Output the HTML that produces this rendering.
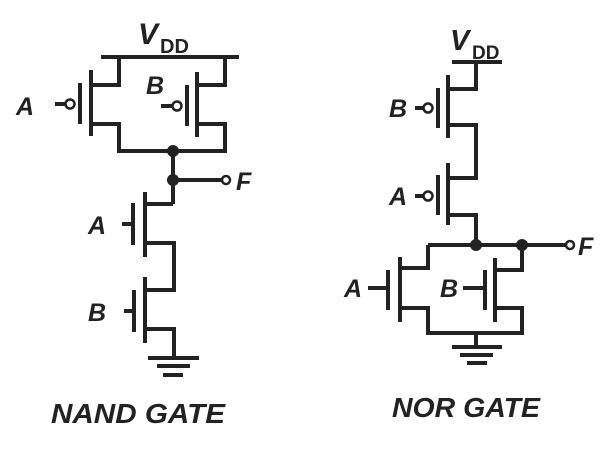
<!DOCTYPE html>
<html><head><meta charset="utf-8"><style>
html,body{margin:0;padding:0;background:#fff;}
svg{display:block;}
text{font-family:"Liberation Sans",Arial,sans-serif;font-weight:bold;font-style:italic;fill:#222;}
</style></head><body>
<svg width="614" height="457" viewBox="0 0 614 457" xmlns="http://www.w3.org/2000/svg">
<g stroke="#222" stroke-width="4" fill="none" stroke-linecap="butt">
<line x1="101" y1="57" x2="239" y2="57"/>
<polyline points="119,57 119,85 91,85"/>
<line x1="91" y1="70" x2="91" y2="136"/>
<line x1="80" y1="83" x2="80" y2="124"/>
<polyline points="91,124 119,124 119,151 225,151 225,124 197,124"/>
<line x1="197" y1="72" x2="197" y2="137"/>
<line x1="187" y1="85" x2="187" y2="126"/>
<polyline points="197,85 225,85 225,57"/>
<line x1="55" y1="104" x2="66" y2="104"/>
<line x1="161" y1="106" x2="173" y2="106"/>
<line x1="173" y1="151" x2="173" y2="204"/>
<line x1="173" y1="180" x2="222" y2="180"/>
<polyline points="173,204 145,204"/>
<line x1="145" y1="192" x2="145" y2="257"/>
<line x1="133" y1="203" x2="133" y2="245"/>
<line x1="122" y1="224" x2="133" y2="224"/>
<polyline points="145,243 174,243 174,290 145,290"/>
<line x1="145" y1="277" x2="145" y2="343"/>
<line x1="134" y1="290" x2="134" y2="332"/>
<line x1="124" y1="311" x2="134" y2="311"/>
<polyline points="145,329 174,329 174,358"/>
<line x1="148" y1="358" x2="199" y2="358"/>
<line x1="157" y1="366" x2="190" y2="366"/>
<line x1="163" y1="375" x2="183" y2="375"/>
<line x1="452" y1="62" x2="502" y2="62"/>
<polyline points="476,62 476,89 448,89"/>
<line x1="448" y1="75" x2="448" y2="138"/>
<line x1="438" y1="88" x2="438" y2="128"/>
<line x1="415" y1="108" x2="424" y2="108"/>
<polyline points="448,125 476,125 476,178 448,178"/>
<line x1="448" y1="163" x2="448" y2="225"/>
<line x1="438" y1="175" x2="438" y2="215"/>
<line x1="415" y1="196" x2="424" y2="196"/>
<polyline points="448,215 476,215 476,245"/>
<line x1="428" y1="245" x2="566" y2="245"/>
<polyline points="428,245 428,268 400,268"/>
<line x1="400" y1="257" x2="400" y2="322"/>
<line x1="388" y1="270" x2="388" y2="310"/>
<line x1="368" y1="288" x2="388" y2="288"/>
<polyline points="400,308 428,308 428,333 522,333 522,308 495,308"/>
<line x1="495" y1="258" x2="495" y2="322"/>
<line x1="485" y1="270" x2="485" y2="310"/>
<line x1="463" y1="288" x2="485" y2="288"/>
<polyline points="495,270 522,270 522,245"/>
<line x1="476" y1="333" x2="476" y2="347"/>
<line x1="452" y1="347" x2="502" y2="347"/>
<line x1="460" y1="355" x2="493" y2="355"/>
<line x1="467" y1="363" x2="487" y2="363"/>
</g>
<g stroke="#222" stroke-width="2.5" fill="#fff">
<circle cx="70" cy="104" r="4.5"/>
<circle cx="177" cy="106" r="4.5"/>
<circle cx="226" cy="180" r="4"/>
<circle cx="428" cy="108" r="4.5"/>
<circle cx="428" cy="196" r="4.5"/>
<circle cx="570" cy="245" r="4"/>
</g>
<g fill="#222">
<circle cx="173" cy="151" r="6"/>
<circle cx="173" cy="180" r="6"/>
<circle cx="476" cy="245" r="6"/>
<circle cx="522" cy="245" r="6"/>
</g>
<text x="138" y="44" font-size="30">V</text>
<text x="160" y="53" font-size="20" style="font-style:normal">DD</text>
<text x="450" y="50" font-size="29">V</text>
<text x="472" y="59" font-size="19" style="font-style:normal">DD</text>
<text x="16" y="115" font-size="25">A</text>
<text x="146" y="94" font-size="25">B</text>
<text x="236" y="190" font-size="25">F</text>
<text x="88" y="234" font-size="25">A</text>
<text x="88" y="321" font-size="25">B</text>
<text x="389" y="117" font-size="25">B</text>
<text x="389" y="205" font-size="25">A</text>
<text x="578" y="255" font-size="25">F</text>
<text x="344" y="297" font-size="25">A</text>
<text x="440" y="297" font-size="25">B</text>
<text x="51" y="423" font-size="28" textLength="174" lengthAdjust="spacingAndGlyphs">NAND GATE</text>
<text x="392" y="417" font-size="28" textLength="148" lengthAdjust="spacingAndGlyphs">NOR GATE</text>
</svg>
</body></html>
